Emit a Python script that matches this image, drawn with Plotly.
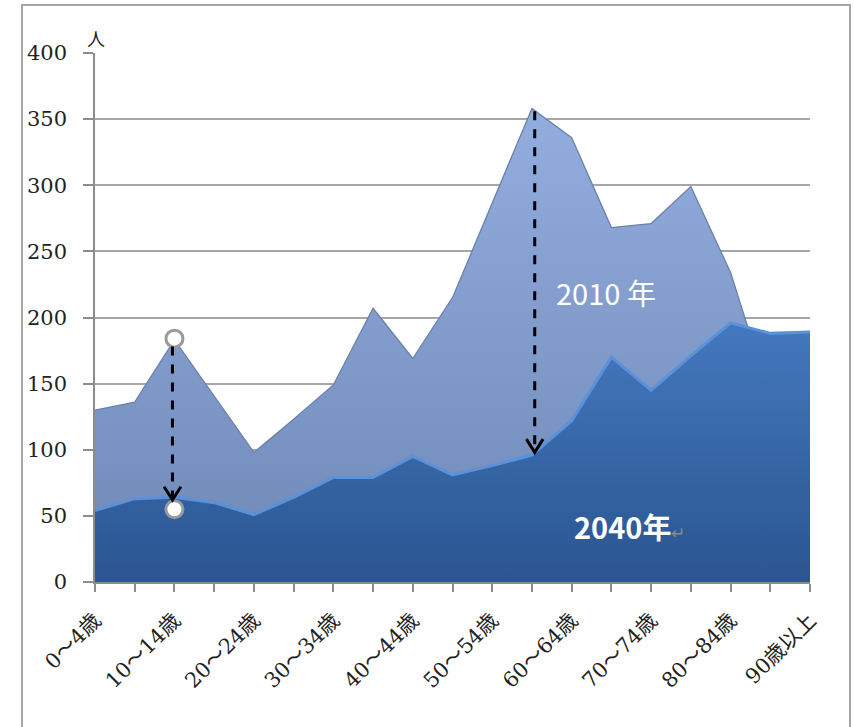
import plotly.graph_objects as go

categories = ["0～4歳", "5～9歳", "10～14歳", "15～19歳", "20～24歳", "25～29歳",
              "30～34歳", "35～39歳", "40～44歳", "45～49歳", "50～54歳", "55～59歳",
              "60～64歳", "65～69歳", "70～74歳", "75～79歳", "80～84歳", "85～89歳",
              "90歳以上"]
pop2010 = [130, 136, 183, 140, 98, 123, 149, 207, 169, 215, 286, 358,
           336, 268, 271, 299, 234, 139, 70]
pop2040 = [54, 63, 64, 60, 51, 64, 79, 79, 95, 81, 88, 96,
           122, 170, 145, 171, 196, 188, 189]
tick_text = [c if i % 2 == 0 else "" for i, c in enumerate(categories)]
y_ticks = list(range(0, 401, 50))

fig = go.Figure()

fig.add_trace(go.Scatter(
    x=categories, y=pop2010, mode="lines", fill="tozeroy", name="2010年",
    line=dict(color="#6B81AA", width=1.3),
    fillgradient=dict(type="vertical", start=0, stop=360,
                      colorscale=[[0, "#6F88B6"], [1, "#92AEDF"]]),
    hoverinfo="x+y",
))
fig.add_trace(go.Scatter(
    x=categories, y=pop2040, mode="lines", fill="tozeroy", name="2040年",
    line=dict(color="#5A92DA", width=3),
    fillgradient=dict(type="vertical", start=0, stop=200,
                      colorscale=[[0, "#2A5590"], [1, "#4479BF"]]),
    hoverinfo="x+y",
))

# circle markers at 10~14 歳
fig.add_trace(go.Scatter(
    x=[categories[2], categories[2]], y=[pop2010[2] + 1, pop2040[2] - 9],
    mode="markers",
    marker=dict(size=17, color="white", line=dict(color="#9A9A9A", width=3)),
    hoverinfo="skip", showlegend=False,
))

shapes = []
# dashed arrows
arrows = [(1.95, pop2010[2] - 5, pop2040[2] - 2), (11.07, pop2010[11] - 2, pop2040[11] + 2)]
for ax, ytop, ybot in arrows:
    shapes.append(dict(type="line", xref="x", yref="y", x0=ax, x1=ax, y0=ytop, y1=ybot + 2,
                       line=dict(color="black", width=3, dash="dash")))
    shapes.append(dict(type="path", xref="x", yref="y",
                       path=f"M {ax-0.21},{ybot+10} L {ax},{ybot} L {ax+0.21},{ybot+10}",
                       line=dict(color="black", width=3)))

# outer border
shapes.append(dict(type="rect", xref="paper", yref="paper",
                   x0=(22 - 95) / 715, x1=(850 - 95) / 715,
                   y0=-0.4, y1=(582 - 5) / 529,
                   line=dict(color="#A6A6A6", width=2), layer="below"))

annotations = [
    dict(x=(96 - 95) / 715, y=(582 - 38) / 529, xref="paper", yref="paper",
         xanchor="center", yanchor="middle",
         text="人", showarrow=False, font=dict(family="Noto Sans CJK JP", size=18, color="#222")),
    dict(x=12.87, y=219, xref="x", yref="y", text="2010 年", showarrow=False,
         xanchor="center", yanchor="middle",
         font=dict(family="Noto Sans CJK JP", size=29, color="white")),
    dict(x=13.45, y=42, xref="x", yref="y",
         xanchor="center", yanchor="middle",
         text="<b>2040年</b><span style='color:#8A8A8A;font-size:17px'>↵</span>",
         showarrow=False, font=dict(family="Noto Sans CJK JP", size=29, color="white")),
]

fig.update_layout(
    width=854, height=727,
    margin=dict(l=95, r=44, t=53, b=145),
    paper_bgcolor="white", plot_bgcolor="white",
    showlegend=False,
    shapes=shapes, annotations=annotations,
    xaxis=dict(
        type="category", categoryorder="array", categoryarray=categories,
        range=[0, len(categories) - 1],
        tickmode="array", tickvals=categories, ticktext=tick_text,
        tickangle=-45, ticks="outside", ticklen=8, tickcolor="#8C8C8C", tickwidth=1.5,
        ticklabelstandoff=8,
        showline=True, linecolor="#8C8C8C", linewidth=1.5, showgrid=False,
        tickfont=dict(family="DejaVu Serif, Noto Sans CJK JP", size=21, color="#222"),
    ),
    yaxis=dict(
        range=[0, 400], tickmode="array", tickvals=y_ticks,
        ticks="outside", ticklen=10, tickcolor="#8C8C8C", tickwidth=1.5,
        ticklabelstandoff=12,
        showline=True, linecolor="#8C8C8C", linewidth=1.5,
        showgrid=True, gridcolor="#A6A6A6", gridwidth=1.5, zeroline=False,
        tickfont=dict(family="DejaVu Serif", size=21, color="#222"),
    ),
)

fig.write_html("out.html")
